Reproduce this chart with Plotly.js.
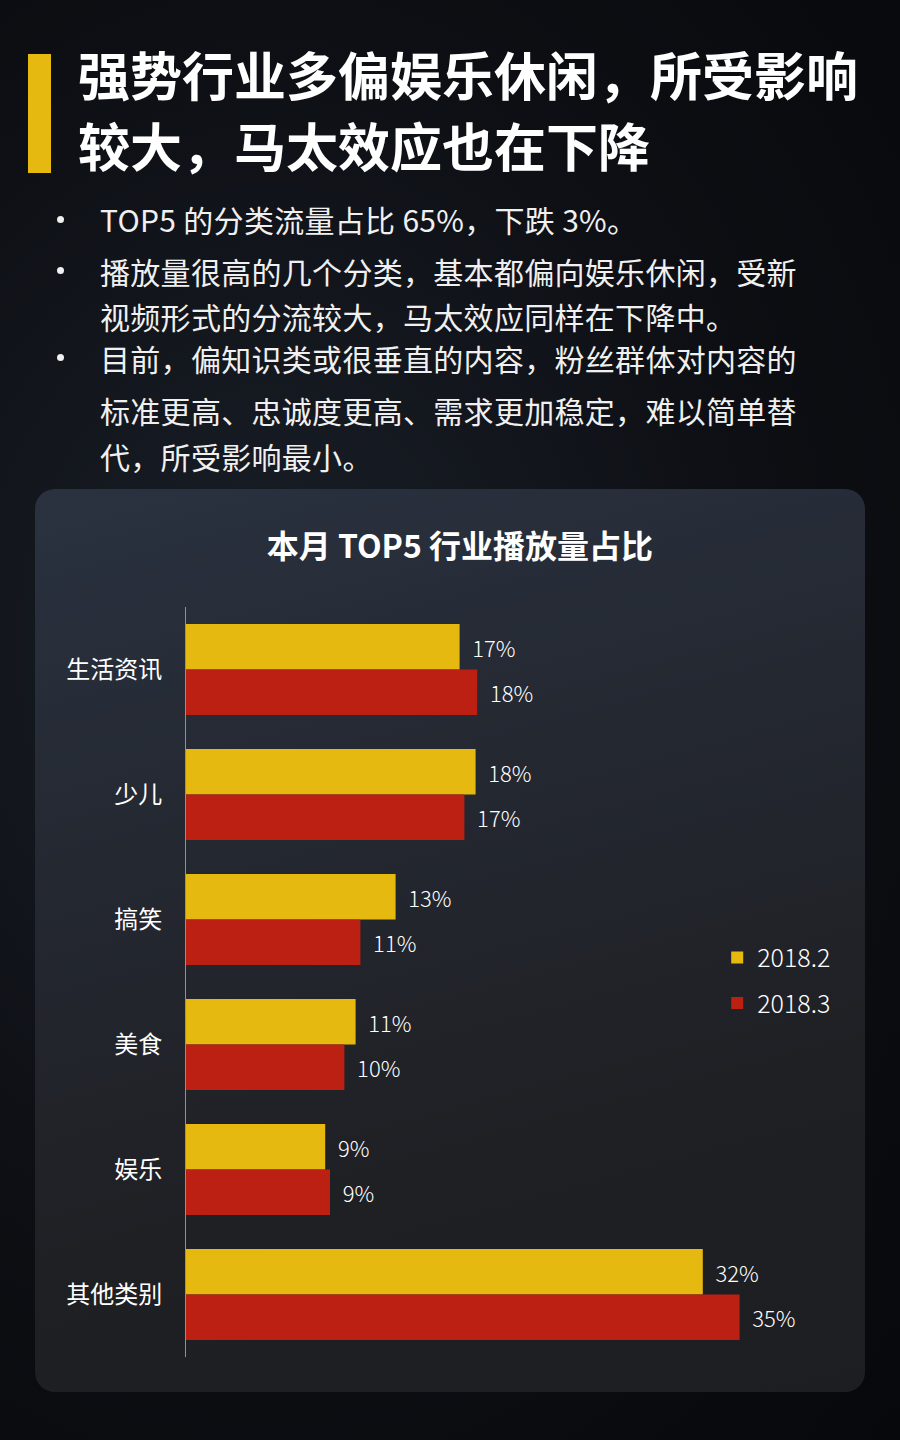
<!DOCTYPE html>
<html>
<head>
<meta charset="utf-8">
<script src="https://cdn.plot.ly/plotly-3.0.1.min.js"></script>
<style>
  html, body { margin:0; padding:0; }
  body { width:900px; height:1440px; position:relative; overflow:hidden;
         background: radial-gradient(ellipse at 30% 45%, #1a1f28 0%, #0d0f14 55%, #07080b 100%);
         font-family: "Noto Sans CJK SC", "Noto Sans", sans-serif; }
  .bar { position:absolute; left:28px; top:54px; width:23px; height:119px; background:#e6b911; }
  .h1 { position:absolute; left:78px; font-size:52px; font-weight:700; color:#ffffff; line-height:52px; white-space:nowrap; }
  .b { position:absolute; left:100px; font-size:30px; font-weight:400; color:#f0f0f0; line-height:30px; white-space:nowrap; letter-spacing:0.3px; }
  .dot { position:absolute; left:57px; width:7px; height:7px; border-radius:50%; background:#f0f0f0; }
  .panel { position:absolute; left:35px; top:489px; width:830px; height:903px; border-radius:20px;
           background: linear-gradient(165deg, #2a3240 0%, #242831 35%, #1f2024 70%, #1d1e21 100%); }
  #chart { position:absolute; left:0; top:0; width:900px; height:1440px; }
</style>
</head>
<body>
<div class="bar"></div>
<div class="h1" style="top:48px;">强势行业多偏娱乐休闲，所受影响</div>
<div class="h1" style="top:119px;">较大，马太效应也在下降</div>

<div class="dot" style="top:216px;"></div>
<div class="b" style="top:204px;">TOP5 的分类流量占比 65%，下跌 3%。</div>
<div class="dot" style="top:267px;"></div>
<div class="b" style="top:256px;">播放量很高的几个分类，基本都偏向娱乐休闲，受新</div>
<div class="b" style="top:301px;">视频形式的分流较大，马太效应同样在下降中。</div>
<div class="dot" style="top:354px;"></div>
<div class="b" style="top:343px;">目前，偏知识类或很垂直的内容，粉丝群体对内容的</div>
<div class="b" style="top:395px;">标准更高、忠诚度更高、需求更加稳定，难以简单替</div>
<div class="b" style="top:441px;">代，所受影响最小。</div>

<div class="panel"></div>
<div id="chart"></div>

<script>
// ---- data ----
var categories = ["生活资讯", "少儿", "搞笑", "美食", "娱乐", "其他类别"];
var seriesNames = ["2018.2", "2018.3"];
var feb2018 = [17.1, 18.1, 13.1, 10.6, 8.7, 32.3];
var mar2018 = [18.2, 17.4, 10.9, 9.9, 9.0, 34.6];
var chartTitle = "本月 TOP5 行业播放量占比";

// ---- styles ----
var FONT = '"Noto Sans CJK SC", "Noto Sans", sans-serif';
var colors = ["#e6b911", "#bc2013"];
var labelFont = {family: FONT, size: 22, color: "#ffffff", weight: 300};

function barTrace(vals, name, color, group) {
  return {
    type: "bar",
    orientation: "h",
    y: categories,
    x: vals,
    name: name,
    legendgroup: group,
    marker: {color: color, line: {width: 0}},
    texttemplate: "\u00a0\u00a0%{x:.0f}%",
    textposition: "outside",
    textfont: labelFont,
    cliponaxis: false,
    hoverinfo: "skip"
  };
}

var data = [
  barTrace(feb2018, seriesNames[0], colors[0], "g1"),
  barTrace(mar2018, seriesNames[1], colors[1], "g2")
];

var layout = {
  width: 900, height: 1440,
  paper_bgcolor: "rgba(0,0,0,0)",
  plot_bgcolor: "rgba(0,0,0,0)",
  margin: {l: 186, r: 74, t: 607, b: 83, pad: 0},
  barmode: "group",
  bargap: 0.272,
  bargroupgap: 0,
  showlegend: true,
  title: {
    text: "<b>" + chartTitle + "</b>",
    font: {family: FONT, size: 32, color: "#ffffff"},
    x: 0.511, xanchor: "center",
    y: 1 - 547/1440, yanchor: "middle"
  },
  xaxis: {
    range: [0, 40],
    visible: false,
    fixedrange: true
  },
  yaxis: {
    type: "category",
    autorange: "reversed",
    showline: true,
    linecolor: "#8e9197",
    linewidth: 1,
    showgrid: false,
    zeroline: false,
    ticks: "",
    ticklabelstandoff: 18,
    tickfont: {family: FONT, size: 24, color: "#ffffff"},
    fixedrange: true
  },
  legend: {
    x: 0.83, xanchor: "left",
    y: 0.563, yanchor: "top",
    bgcolor: "rgba(0,0,0,0)",
    font: {family: FONT, size: 25, color: "#ffffff", weight: 300},
    traceorder: "grouped",
    tracegroupgap: 10,
    itemclick: false
  },
  font: {family: FONT, color: "#ffffff"}
};

Plotly.newPlot("chart", data, layout, {displayModeBar: false, staticPlot: true});
</script>
</body>
</html>
